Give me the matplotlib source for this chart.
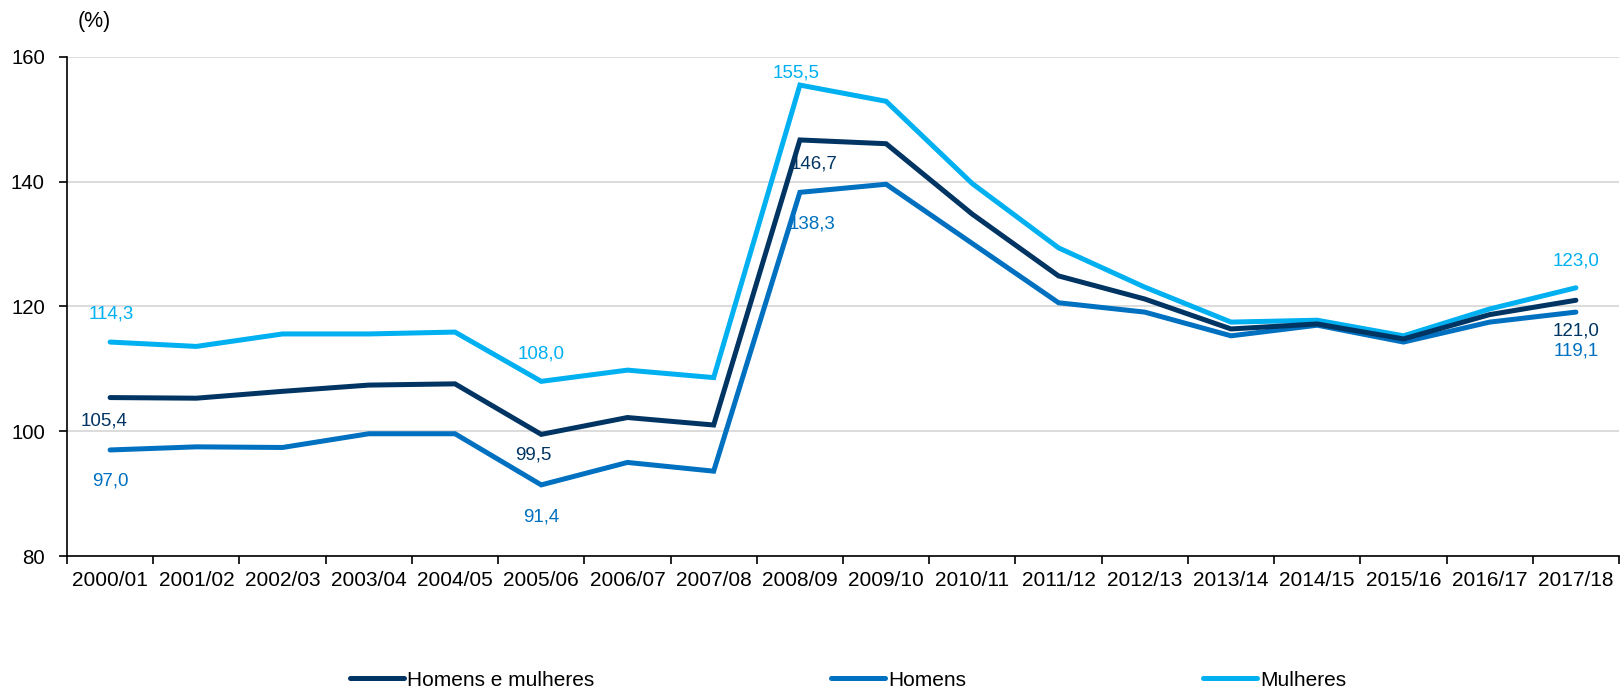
import matplotlib
matplotlib.use("Agg")
import matplotlib.pyplot as plt
import numpy as np

plt.rcParams['font.family'] = ['Liberation Sans', 'DejaVu Sans']

categories = ["2000/01", "2001/02", "2002/03", "2003/04", "2004/05", "2005/06",
              "2006/07", "2007/08", "2008/09", "2009/10", "2010/11", "2011/12",
              "2012/13", "2013/14", "2014/15", "2015/16", "2016/17", "2017/18"]
ambos = [105.4, 105.3, 106.4, 107.4, 107.6, 99.5, 102.2, 101.0, 146.7, 146.1,
         134.8, 124.9, 121.2, 116.4, 117.2, 114.8, 118.7, 121.0]
homens = [97.0, 97.5, 97.4, 99.6, 99.6, 91.4, 95.0, 93.6, 138.3, 139.6,
          130.1, 120.6, 119.1, 115.3, 117.0, 114.3, 117.5, 119.1]
mulheres = [114.3, 113.6, 115.6, 115.6, 115.9, 108.0, 109.8, 108.6, 155.5, 152.9,
            139.7, 129.4, 123.1, 117.5, 117.8, 115.3, 119.6, 123.0]
yticks = [80, 100, 120, 140, 160]

c_dark = '#003462'
c_mid = '#0070C0'
c_light = '#00B0F0'

fig = plt.figure(figsize=(16.21, 6.93), dpi=100)
ax = fig.add_axes([67 / 1621, 1 - 556 / 693, 1552 / 1621, 499 / 693])

x = np.arange(len(categories)) + 0.5
lw = 3.6
kw = dict(lw=lw, solid_joinstyle='miter', solid_capstyle='round')
l1, = ax.plot(x, ambos, color=c_dark, label='Homens e mulheres', zorder=4, **kw)
l2, = ax.plot(x, homens, color=c_mid, label='Homens', zorder=3, **kw)
l3, = ax.plot(x, mulheres, color=c_light, label='Mulheres', zorder=2, **kw)

ax.set_xlim(0, len(categories))
ax.set_ylim(80, 160)
ax.set_yticks(yticks)
ax.set_yticklabels([str(v) for v in yticks], fontsize=14.7)
ax.yaxis.grid(True, color='#D9D9D9', lw=1.3)
ax.set_axisbelow(True)

ax.set_xticks(np.arange(len(categories) + 1))
ax.set_xticklabels([])
ax.set_xticks(x, minor=True)
ax.set_xticklabels(categories, minor=True, fontsize=15)
ax.tick_params(axis='x', which='minor', length=0, pad=11)
ax.tick_params(axis='x', which='major', length=6, width=1.2, direction='out')
ax.tick_params(axis='y', length=6, width=1.2, direction='out', pad=10)

for s in ['top', 'right']:
    ax.spines[s].set_visible(False)
ax.spines['left'].set_linewidth(1.2)
ax.spines['bottom'].set_linewidth(1.2)

def lab(i, series, color, dx, dy):
    ax.annotate(f"{series[i]:.1f}".replace('.', ','), (x[i], series[i]),
                xytext=(dx, dy), textcoords='offset points', ha='center', va='center',
                fontsize=13.5, color=color, zorder=6)

lab(0, mulheres, c_light, 1, 20)
lab(0, ambos, c_dark, -4, -17)
lab(0, homens, c_mid, 0, -22)
lab(5, mulheres, c_light, 0, 20)
lab(5, ambos, c_dark, -6, -15)
lab(5, homens, c_mid, 0, -23)
lab(8, mulheres, c_light, -3, 9)
lab(8, ambos, c_dark, 10, -17)
lab(8, homens, c_mid, 9, -23)
lab(17, mulheres, c_light, 0, 19)
lab(17, ambos, c_dark, 0, -22)
lab(17, homens, c_mid, 0, -28)

fig.text(94 / 1621, 1 - 21 / 693, '(%)', fontsize=15.5, ha='center', va='center')

leg = fig.legend(handles=[l1, l2, l3], loc='center', bbox_to_anchor=(848 / 1621, 1 - 680 / 693),
                 ncol=3, frameon=False, fontsize=15, handlelength=2.6, handletextpad=0.15,
                 columnspacing=11.35)

fig.savefig('out.png', dpi=100)
